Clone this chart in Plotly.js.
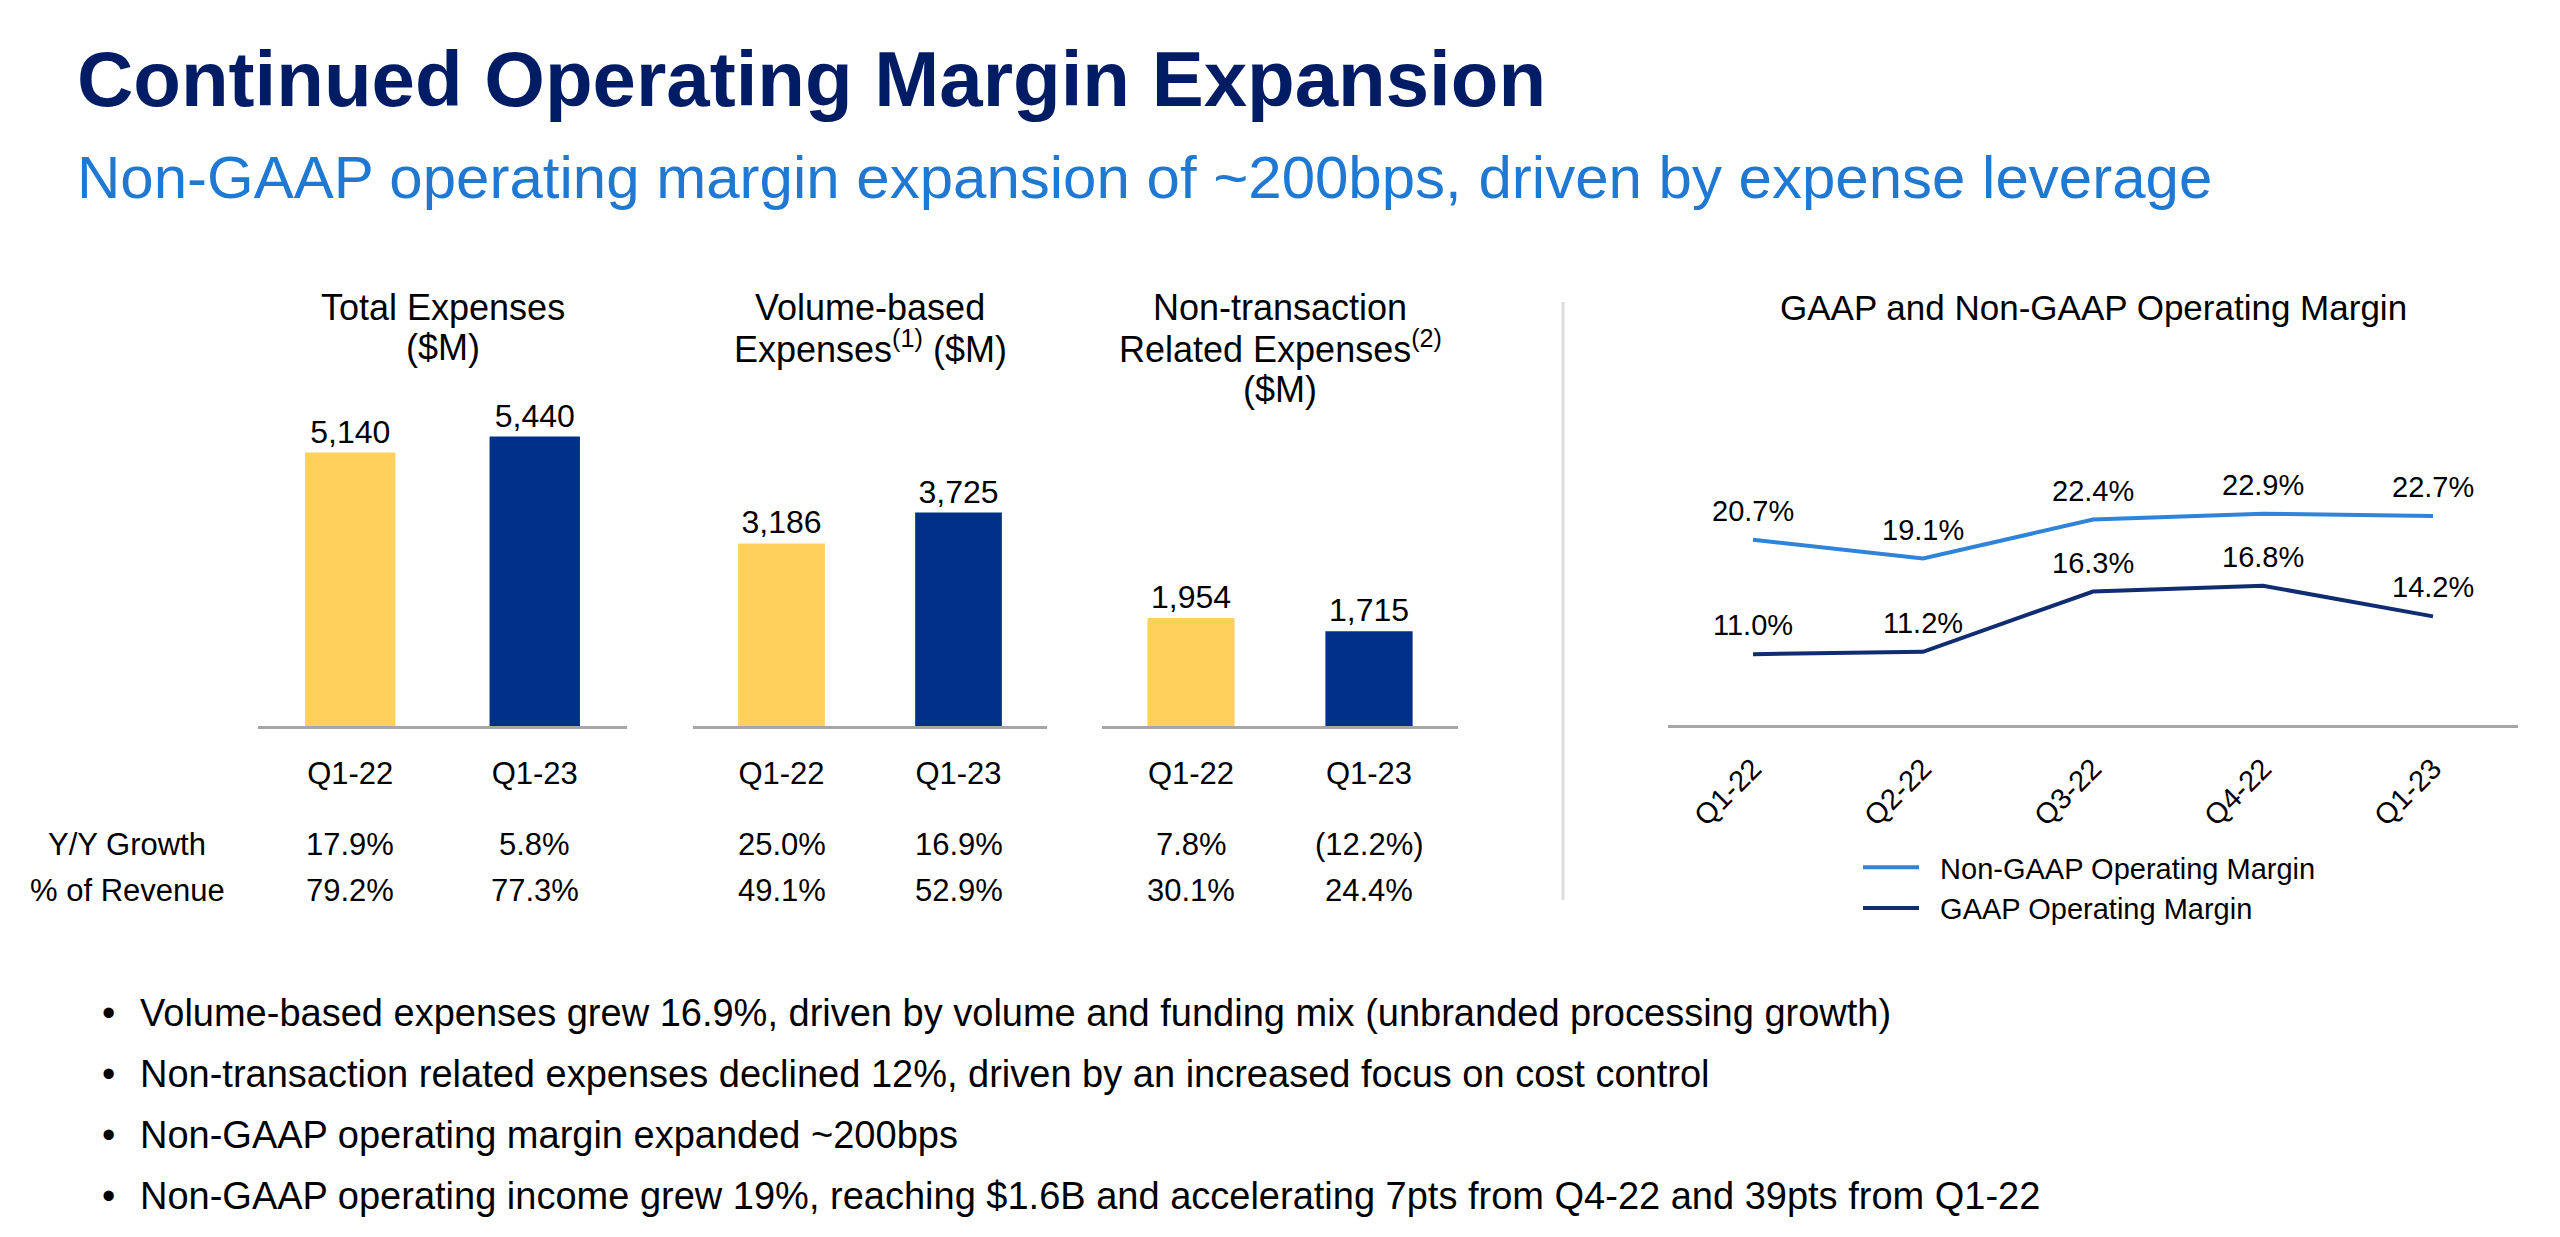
<!DOCTYPE html>
<html>
<head>
<meta charset="utf-8">
<script src="https://cdn.plot.ly/plotly-3.0.1.min.js"></script>
<style>
  html, body { margin: 0; padding: 0; background: #ffffff; }
  #chart { width: 2560px; height: 1237px; }
</style>
</head>
<body>
<div id="chart"></div>
<script>
// ---------------- DATA ----------------
const periods = ['Q1-22', 'Q1-23'];
const totalExp = [5140, 5440];
const volumeExp = [3186, 3725];
const nonTxnExp = [1954, 1715];

const rowLabels = ['Y/Y Growth', '% of Revenue'];
const yoyTotal = ['17.9%', '5.8%'];
const yoyVolume = ['25.0%', '16.9%'];
const yoyNonTxn = ['7.8%', '(12.2%)'];
const revTotal = ['79.2%', '77.3%'];
const revVolume = ['49.1%', '52.9%'];
const revNonTxn = ['30.1%', '24.4%'];

const quarters = ['Q1-22', 'Q2-22', 'Q3-22', 'Q4-22', 'Q1-23'];
const nonGaapMargin = [20.7, 19.1, 22.4, 22.9, 22.7];
const gaapMargin = [11.0, 11.2, 16.3, 16.8, 14.2];

const panelTitles = [
  ['Total Expenses', '($M)'],
  ['Volume-based', 'Expenses<sup>(1)</sup> ($M)'],
  ['Non-transaction', 'Related Expenses<sup>(2)</sup>', '($M)']
];
const lineTitle = 'GAAP and Non-GAAP Operating Margin';
const seriesNames = ['Non-GAAP Operating Margin', 'GAAP Operating Margin'];

const mainTitle = 'Continued Operating Margin Expansion';
const subTitle = 'Non-GAAP operating margin expansion of ~200bps, driven by expense leverage';
const bullets = [
  'Volume-based expenses grew 16.9%, driven by volume and funding mix (unbranded processing growth)',
  'Non-transaction related expenses declined 12%, driven by an increased focus on cost control',
  'Non-GAAP operating margin expanded ~200bps',
  'Non-GAAP operating income grew 19%, reaching $1.6B and accelerating 7pts from Q4-22 and 39pts from Q1-22'
];

// ---------------- STYLE / LAYOUT HELPERS ----------------
const W = 2560, H = 1237;
const px = x => x / W;
const py = y => 1 - y / H;
const FONT = 'Liberation Sans, Arial, Helvetica, sans-serif';
const YELLOW = '#FDD15C';
const NAVY = '#003087';
const LIGHT_BLUE = '#2F84DA';
const DARK_BLUE = '#102D72';
const AXIS_GRAY = '#a6a6a6';
const GAP = '\u00A0\u00A0';
const fmt = v => v.toLocaleString('en-US');

const barSets = [
  { vals: totalExp, yoy: yoyTotal, rev: revTotal, xa: 'x', ya: 'y' },
  { vals: volumeExp, yoy: yoyVolume, rev: revVolume, xa: 'x2', ya: 'y2' },
  { vals: nonTxnExp, yoy: yoyNonTxn, rev: revNonTxn, xa: 'x3', ya: 'y3' }
];

const traces = barSets.map(s => ({
  type: 'bar', x: periods, y: s.vals, xaxis: s.xa, yaxis: s.ya,
  marker: { color: [YELLOW, NAVY] }, width: 0.49,
  text: s.vals.map(fmt), textposition: 'outside', cliponaxis: false,
  constraintext: 'none',
  textfont: { family: FONT, size: 32, color: '#000' },
  showlegend: false, hoverinfo: 'skip'
}));

traces.push({
  type: 'scatter', mode: 'lines', x: quarters, y: nonGaapMargin,
  xaxis: 'x4', yaxis: 'y4', name: GAP + seriesNames[0],
  line: { color: LIGHT_BLUE, width: 4 }, hoverinfo: 'skip'
});
traces.push({
  type: 'scatter', mode: 'lines', x: quarters, y: gaapMargin,
  xaxis: 'x4', yaxis: 'y4', name: GAP + seriesNames[1],
  line: { color: DARK_BLUE, width: 4 }, hoverinfo: 'skip'
});

function barX(domain) {
  return {
    domain: domain, type: 'category', range: [-0.5, 1.5],
    showline: true, linecolor: AXIS_GRAY, linewidth: 3,
    ticks: '', showgrid: false, zeroline: false, fixedrange: true,
    tickfont: { family: FONT, size: 31, color: '#000' },
    ticklabelstandoff: 18
  };
}
function hiddenY(domain, range) {
  return { domain: domain, range: range, visible: false, fixedrange: true };
}

const annotations = [];
// main titles
annotations.push({ xref: 'paper', yref: 'paper', x: px(75), y: py(79), xanchor: 'left', yanchor: 'middle',
  text: '<b>' + mainTitle + '</b>', showarrow: false, font: { family: FONT, size: 78, color: '#001C64' } });
annotations.push({ xref: 'paper', yref: 'paper', x: px(75), y: py(177), xanchor: 'left', yanchor: 'middle',
  text: subTitle, showarrow: false, font: { family: FONT, size: 60, color: '#1F78D1' } });

// panel titles
const titleLineY = [307, 347, 389];
panelTitles.forEach((lines, p) => {
  const xa = barSets[p].xa;
  lines.forEach((t, k) => {
    annotations.push({ xref: xa + ' domain', yref: 'paper', x: 0.5, y: py(titleLineY[k]),
      xanchor: 'center', yanchor: 'middle', text: t, showarrow: false,
      font: { family: FONT, size: 36, color: '#000' } });
  });
});

// table rows
const rowY = [844, 890];
rowLabels.forEach((t, r) => {
  annotations.push({ xref: 'paper', yref: 'paper', x: px(127), y: py(rowY[r]), xanchor: 'center', yanchor: 'middle',
    text: t, showarrow: false, font: { family: FONT, size: 31, color: '#000' } });
});
barSets.forEach(s => {
  [s.yoy, s.rev].forEach((row, r) => {
    row.forEach((t, i) => {
      annotations.push({ xref: s.xa, yref: 'paper', x: periods[i], y: py(rowY[r]), xanchor: 'center', yanchor: 'middle',
        text: t, showarrow: false, font: { family: FONT, size: 31, color: '#000' } });
    });
  });
});

// line chart title & point labels
annotations.push({ xref: 'x4 domain', yref: 'paper', x: 0.5, y: py(307), xanchor: 'center', yanchor: 'middle',
  text: lineTitle, showarrow: false, font: { family: FONT, size: 35, color: '#000' } });
[nonGaapMargin, gaapMargin].forEach(series => {
  series.forEach((v, i) => {
    annotations.push({ xref: 'x4', yref: 'y4', x: quarters[i], y: v, yshift: 29, xanchor: 'center', yanchor: 'middle',
      text: v.toFixed(1) + '%', showarrow: false, font: { family: FONT, size: 29, color: '#000' } });
  });
});

// bullets
const bulletY = [1013, 1074, 1135, 1196];
bullets.forEach((t, i) => {
  annotations.push({ xref: 'paper', yref: 'paper', x: px(108), y: py(bulletY[i]), xanchor: 'center', yanchor: 'middle',
    text: '•', showarrow: false, font: { family: FONT, size: 38, color: '#000' } });
  annotations.push({ xref: 'paper', yref: 'paper', x: px(138), y: py(bulletY[i]), xanchor: 'left', yanchor: 'middle',
    text: t, showarrow: false, font: { family: FONT, size: 38, color: '#000' } });
});

const layout = {
  width: W, height: H,
  margin: { l: 0, r: 0, t: 0, b: 0 },
  paper_bgcolor: '#ffffff', plot_bgcolor: '#ffffff',
  font: { family: FONT, color: '#000' },
  showlegend: true,
  legend: {
    x: px(1858), xanchor: 'left', y: py(842), yanchor: 'top',
    font: { family: FONT, size: 29, color: '#000' },
    bgcolor: 'rgba(0,0,0,0)', traceorder: 'normal', itemwidth: 56
  },
  xaxis: Object.assign(barX([px(258), px(627)]), { anchor: 'y' }),
  yaxis: Object.assign(hiddenY([py(726), py(300)], [0, 8008]), { anchor: 'x' }),
  xaxis2: Object.assign(barX([px(693), px(1047)]), { anchor: 'y2' }),
  yaxis2: Object.assign(hiddenY([py(726), py(300)], [0, 7435]), { anchor: 'x2' }),
  xaxis3: Object.assign(barX([px(1102), px(1458)]), { anchor: 'y3' }),
  yaxis3: Object.assign(hiddenY([py(726), py(300)], [0, 7703]), { anchor: 'x3' }),
  xaxis4: {
    domain: [px(1668), px(2518)], anchor: 'y4', type: 'category', range: [-0.5, 4.5],
    showline: true, linecolor: AXIS_GRAY, linewidth: 3, ticks: '', showgrid: false, zeroline: false,
    tickangle: -45, tickfont: { family: FONT, size: 29, color: '#000' }, ticklabelstandoff: 12, fixedrange: true
  },
  yaxis4: Object.assign(hiddenY([py(725), py(300)], [5, 41.0]), { anchor: 'x4' }),
  shapes: [
    { type: 'line', xref: 'paper', yref: 'paper', x0: px(1563), x1: px(1563), y0: py(302), y1: py(900),
      line: { color: '#dcdcdc', width: 3 } }
  ],
  annotations: annotations
};

Plotly.newPlot('chart', traces, layout, { staticPlot: true, displayModeBar: false });
</script>
</body>
</html>
